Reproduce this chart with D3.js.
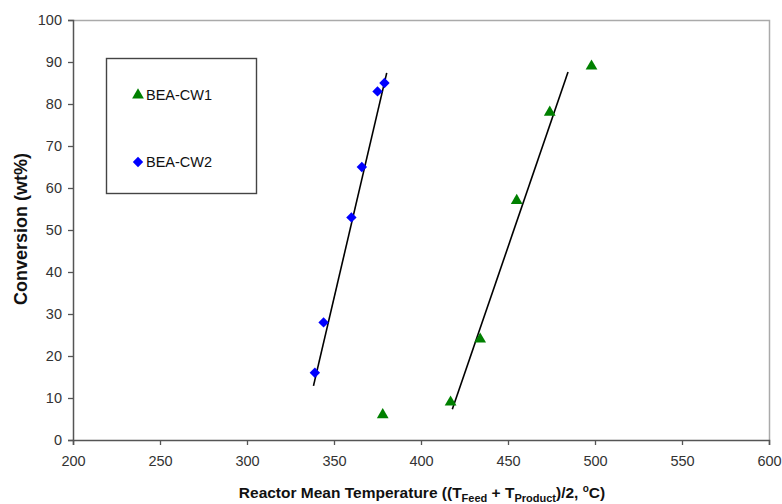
<!DOCTYPE html>
<html>
<head>
<meta charset="utf-8">
<script src="https://cdn.jsdelivr.net/npm/d3@7/dist/d3.min.js"></script>
<style>
  html, body { margin: 0; padding: 0; background: #fff; }
  svg { display: block; font-family: "Liberation Sans", Arial, Helvetica, sans-serif; }
</style>
</head>
<body>
<svg id="chart" width="782" height="504"></svg>
<script>
// Conversion vs. reactor mean temperature for two catalysts
const cw1Temp = [378, 417, 434, 455, 474, 498];
const cw1Conv = [6, 9, 24, 57, 78, 89];
const cw2Temp = [339, 344, 360, 366, 375, 379];
const cw2Conv = [16, 28, 53, 65, 83, 85];

// Linear trend line end points (temperature, conversion)
const cw1FitTemp = [418, 484.5];
const cw1FitConv = [7.3, 87.6];
const cw2FitTemp = [338.2, 380.3];
const cw2FitConv = [12.9, 87.4];

const xTicks = [200, 250, 300, 350, 400, 450, 500, 550, 600];
const yTicks = [0, 10, 20, 30, 40, 50, 60, 70, 80, 90, 100];
const seriesNames = ["BEA-CW1", "BEA-CW2"];
const seriesColors = ["#008000", "#0000ff"];

const svg = d3.select("#chart");
const plot = { left: 73, right: 769, top: 20, bottom: 440 };

const x = d3.scaleLinear().domain([200, 600]).range([plot.left, plot.right]);
const y = d3.scaleLinear().domain([0, 100]).range([plot.bottom, plot.top]);

// plot frame (top and right edges)
svg.append("path")
  .attr("d", `M${plot.left},${plot.top + 0.5}H${plot.right + 0.5}V${plot.bottom}`)
  .attr("fill", "none").attr("stroke", "#aaaaaa").attr("stroke-width", 1.5);

// axes
const xAxis = svg.append("g")
  .attr("transform", `translate(0,${plot.bottom})`)
  .call(d3.axisBottom(x).tickValues(xTicks).tickSize(5).tickPadding(8).tickFormat(d3.format("d")));
const yAxis = svg.append("g")
  .attr("transform", `translate(${plot.left},0)`)
  .call(d3.axisLeft(y).tickValues(yTicks).tickSize(5).tickPadding(6).tickFormat(d3.format("d")));

[xAxis, yAxis].forEach(g => {
  g.select(".domain").attr("stroke", "#555").attr("stroke-width", 1.5);
  g.selectAll(".tick line").attr("stroke", "#555").attr("stroke-width", 1.3);
  g.selectAll(".tick text")
    .attr("fill", "#333")
    .style("font-size", "14.5px")
    .style("font-family", "'Liberation Sans', Arial, sans-serif");
});
xAxis.selectAll(".tick text").attr("dy", "0.9em");

// trend lines
const line = d3.line().x(d => x(d[0])).y(d => y(d[1]));
[[cw1FitTemp, cw1FitConv], [cw2FitTemp, cw2FitConv]].forEach(([t, c]) => {
  svg.append("path")
    .datum(t.map((v, i) => [v, c[i]]))
    .attr("d", line)
    .attr("fill", "none")
    .attr("stroke", "#000")
    .attr("stroke-width", 1.6);
});

// markers
const triangle = d3.symbol().type(d3.symbolTriangle).size(60);
const diamond = d3.symbol().type(d3.symbolSquare).size(54);

svg.append("g").selectAll("path")
  .data(cw1Temp.map((t, i) => [t, cw1Conv[i]]))
  .join("path")
  .attr("d", triangle)
  .attr("transform", d => `translate(${x(d[0])},${y(d[1])})`)
  .attr("fill", seriesColors[0]);

svg.append("g").selectAll("path")
  .data(cw2Temp.map((t, i) => [t, cw2Conv[i]]))
  .join("path")
  .attr("d", diamond)
  .attr("transform", d => `translate(${x(d[0])},${y(d[1])}) rotate(45)`)
  .attr("fill", seriesColors[1]);

// legend
const legend = svg.append("g");
legend.append("rect")
  .attr("x", 106.5).attr("y", 58.5).attr("width", 150).attr("height", 135)
  .attr("fill", "#fff").attr("stroke", "#444").attr("stroke-width", 1.4);
const legendRows = [95, 162];
legend.append("path")
  .attr("d", triangle)
  .attr("transform", `translate(138,${legendRows[0]})`)
  .attr("fill", seriesColors[0]);
legend.append("path")
  .attr("d", diamond)
  .attr("transform", `translate(138,${legendRows[1]}) rotate(45)`)
  .attr("fill", seriesColors[1]);
seriesNames.forEach((name, i) => {
  legend.append("text")
    .attr("x", 146).attr("y", legendRows[i]).attr("dy", "0.36em")
    .attr("fill", "#111")
    .style("font-size", "14.5px")
    .text(name);
});

// axis titles
svg.append("text")
  .attr("transform", `translate(27,229) rotate(-90)`)
  .attr("text-anchor", "middle")
  .style("font-size", "18px").style("font-weight", "bold")
  .attr("fill", "#111")
  .text("Conversion (wt%)");

const xt = svg.append("text")
  .attr("x", 422).attr("y", 498)
  .attr("text-anchor", "middle")
  .style("font-size", "15.5px").style("font-weight", "bold")
  .attr("fill", "#111");
xt.append("tspan").text("Reactor Mean Temperature ((T");
xt.append("tspan").attr("dy", 4).style("font-size", "11px").text("Feed");
xt.append("tspan").attr("dy", -4).text(" + T");
xt.append("tspan").attr("dy", 4).style("font-size", "11px").text("Product");
xt.append("tspan").attr("dy", -4).text(")/2, ");
xt.append("tspan").attr("dy", -6).style("font-size", "10px").text("o");
xt.append("tspan").attr("dy", 6).text("C)");
</script>
</body>
</html>
